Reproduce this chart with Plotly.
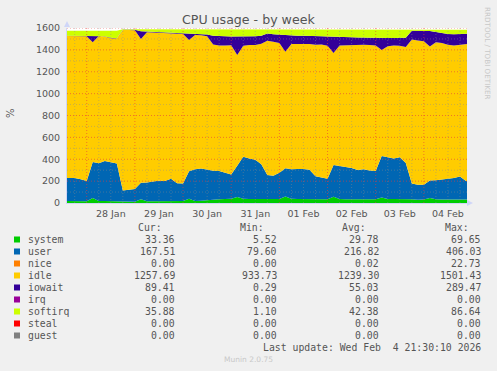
import plotly.graph_objects as go
import pandas as pd

# ---------------- data ----------------
times = pd.date_range("2026-01-27 12:00", periods=69, freq="3h")

system = [18,
          18, 18, 17, 17, 45, 18, 18, 17, 17, 10,
          10, 12, 35, 15, 16, 16, 17, 17, 18, 18,
          40, 18, 20, 22, 30, 35, 35, 38, 55, 38,
          36, 36, 35, 35, 34, 36, 60, 38, 36, 35,
          34, 34, 33, 35, 58, 36, 35, 35, 34, 35,
          33, 35, 50, 36, 37, 38, 36, 34, 30, 32,
          45, 34, 33, 32, 33, 32, 33,
          33]
user = [212,
        212, 210, 200, 185, 330, 345, 365, 355, 345, 105,
        110, 115, 150, 172, 180, 188, 185, 205, 162, 160,
        250, 290, 295, 282, 265, 258, 243, 222, 285, 385,
        370, 360, 320, 220, 215, 240, 258, 270, 274, 276,
        270, 210, 200, 187, 289, 302, 295, 285, 268, 274,
        265, 258, 380, 381, 371, 380, 330, 145, 137, 135,
        160, 175, 183, 187, 195, 210, 168,
        168]
nice = [0] * 69
idle = [1297,
        1297, 1297, 1307, 1322, 1095, 1164, 1139, 1135, 1142, 1466,
        1461, 1453, 1315, 1375, 1364, 1354, 1353, 1328, 1370, 1367,
        1200, 1229, 1218, 1221, 1155, 1147, 1162, 1183, 1013, 1015,
        1039, 1049, 1100, 1229, 1225, 1188, 1066, 1146, 1144, 1143,
        1150, 1202, 1216, 1215, 1025, 1101, 1111, 1126, 1142, 1138,
        1146, 1146, 969, 1017, 1031, 1019, 1061, 1317, 1319, 1312,
        1227, 1260, 1248, 1227, 1211, 1204, 1258,
        1258]
iowait = [3,
          3, 5, 3, 3, 60, 3, 3, 3, 3, 3,
          3, 3, 70, 5, 5, 5, 5, 5, 5, 8,
          60, 10, 12, 15, 80, 85, 85, 80, 170, 85,
          80, 80, 75, 65, 70, 75, 150, 80, 75, 75,
          75, 80, 75, 85, 150, 80, 75, 70, 70, 65,
          65, 70, 110, 75, 70, 75, 85, 80, 90, 95,
          140, 95, 90, 100, 105, 100, 89,
          89]
irq = [0] * 69
softirq = [45,
           45, 45, 48, 48, 45, 45, 50, 65, 68, 4,
           4, 5, 15, 18, 20, 22, 25, 30, 30, 32,
           35, 38, 40, 45, 55, 60, 60, 62, 62, 62,
           60, 60, 55, 35, 40, 45, 50, 50, 55, 55,
           55, 58, 60, 62, 62, 65, 68, 68, 70, 72,
           75, 75, 75, 75, 75, 72, 72, 8, 8, 10,
           12, 20, 30, 38, 40, 38, 36,
           36]
steal = [0] * 69
guest = [0] * 69

series_names = ["system", "user", "nice", "idle", "iowait", "irq", "softirq", "steal", "guest"]
series_values = [system, user, nice, idle, iowait, irq, softirq, steal, guest]
series_colors = ["#00CC00", "#0066B3", "#FF8000", "#FFCC00", "#330099",
                 "#990099", "#CCFF00", "#FF0000", "#808080"]

cur_vals = ["33.36", "167.51", "0.00", "1257.69", "89.41", "0.00", "35.88", "0.00", "0.00"]
min_vals = ["5.52", "79.60", "0.00", "933.73", "0.29", "0.00", "1.10", "0.00", "0.00"]
avg_vals = ["29.78", "216.82", "0.02", "1239.30", "55.03", "0.00", "42.38", "0.00", "0.00"]
max_vals = ["69.65", "406.03", "22.73", "1501.43", "289.47", "0.00", "86.64", "0.00", "0.00"]

x_tick_dates = pd.date_range("2026-01-28 12:00", "2026-02-04 12:00", freq="1D")
x_tick_text = ["28 Jan", "29 Jan", "30 Jan", "31 Jan", "01 Feb", "02 Feb", "03 Feb", "04 Feb"]
y_ticks = [0, 200, 400, 600, 800, 1000, 1200, 1400, 1600]

title_text = "CPU usage - by week"
last_update = "Last update: Wed Feb \u00a04 21:30:10 2026"
footer = "Munin 2.0.75"
side_text = "RRDTOOL / TOBI OETIKER"

x_start = pd.Timestamp("2026-01-27 14:10")
x_end = pd.Timestamp("2026-02-04 21:30")

# ---------------- layout geometry ----------------
W, H = 497, 371
L, R, T, B = 67, 30, 28, 168
PW, PH = W - L - R, H - T - B
TEXT = "#555555"
AXIS = "#CFD6F8"


def px(x):
    return (x - L) / PW


def py(y):
    return (T + PH - y) / PH


fig = go.Figure()
for name, vals, col in zip(series_names, series_values, series_colors):
    fig.add_trace(go.Scatter(
        x=times, y=vals, name=name, mode="lines", stackgroup="one",
        line=dict(width=0, color=col), fillcolor=col, hoverinfo="skip"))

shapes = []
# vertical grid every 6 hours
for t in pd.date_range("2026-01-27 18:00", "2026-02-04 18:00", freq="6h"):
    major = t.hour == 0
    shapes.append(dict(type="line", xref="x", yref="paper", x0=t, x1=t, y0=0, y1=1,
                       layer="above",
                       line=dict(color="rgba(229,60,60,0.6)" if major else "rgba(140,140,140,0.45)",
                                 width=1, dash="1px,2px")))
# horizontal grid every 100
for v in range(100, 1700, 100):
    major = v % 200 == 0
    shapes.append(dict(type="line", xref="paper", yref="y", x0=0, x1=1, y0=v, y1=v,
                       layer="above",
                       line=dict(color="rgba(229,60,60,0.6)" if major else "rgba(140,140,140,0.45)",
                                 width=1, dash="1px,2px")))
# axis arrows
shapes.append(dict(type="path", xref="paper", yref="paper", layer="above",
                   path=f"M {px(64)} {py(27)} L {px(70)} {py(27)} L {px(67)} {py(21)} Z",
                   fillcolor=AXIS, line=dict(width=0)))
shapes.append(dict(type="path", xref="paper", yref="paper", layer="above",
                   path=f"M {px(467)} {py(200)} L {px(467)} {py(206)} L {px(473)} {py(203)} Z",
                   fillcolor=AXIS, line=dict(width=0)))

annotations = []
annotations.append(dict(text=title_text, xref="paper", yref="paper", x=px(W / 2), y=py(19),
                        xanchor="center", yanchor="middle", showarrow=False,
                        font=dict(family="DejaVu Sans", size=12.6, color=TEXT)))
annotations.append(dict(text="%", xref="paper", yref="paper", x=px(10), y=py(113),
                        xanchor="center", yanchor="middle", showarrow=False, textangle=-90,
                        font=dict(family="DejaVu Sans", size=10, color=TEXT)))
annotations.append(dict(text=side_text, xref="paper", yref="paper", x=px(487.5), y=py(53.5),
                        xanchor="center", yanchor="middle", showarrow=False, textangle=90,
                        font=dict(family="DejaVu Sans", size=7.2, color="#C8C8C8")))

MONO = dict(family="DejaVu Sans Mono", size=9.8, color=TEXT)
head_y = 227.7
for lab, xr in zip(["Cur:", "Min:", "Avg:", "Max:"], [163.5, 266, 368, 470.5]):
    annotations.append(dict(text=lab, xref="paper", yref="paper", x=px(xr), y=py(head_y),
                            xanchor="right", yanchor="middle", showarrow=False, font=MONO))
for i, name in enumerate(series_names):
    yy = 239.5 + 12 * i
    shapes.append(dict(type="rect", xref="paper", yref="paper", layer="above",
                       x0=px(14), x1=px(20), y0=py(yy + 3), y1=py(yy - 3),
                       fillcolor=series_colors[i], line=dict(width=0)))
    annotations.append(dict(text=name, xref="paper", yref="paper", x=px(26), y=py(yy),
                            xanchor="left", yanchor="middle", showarrow=False, font=MONO))
    for col, xr in zip([cur_vals, min_vals, avg_vals, max_vals], [176.5, 278.5, 380.5, 482.5]):
        annotations.append(dict(text=col[i], xref="paper", yref="paper", x=px(xr), y=py(yy),
                                xanchor="right", yanchor="middle", showarrow=False, font=MONO))
annotations.append(dict(text=last_update, xref="paper", yref="paper", x=px(482.5), y=py(347.7),
                        xanchor="right", yanchor="middle", showarrow=False, font=MONO))
annotations.append(dict(text=footer, xref="paper", yref="paper", x=px(248), y=py(359.5),
                        xanchor="center", yanchor="middle", showarrow=False,
                        font=dict(family="DejaVu Sans", size=7.5, color="#C8C8C8")))

fig.update_layout(
    width=W, height=H,
    margin=dict(l=L, r=R, t=T, b=B, pad=0),
    paper_bgcolor="#F0F0F0", plot_bgcolor="#FFFFFF",
    showlegend=False,
    shapes=shapes, annotations=annotations,
    xaxis=dict(type="date", range=[x_start, x_end], tickvals=list(x_tick_dates), ticktext=x_tick_text,
               showgrid=False, zeroline=False, showline=True, linecolor=AXIS, linewidth=1,
               ticks="", ticklabelstandoff=2,
               tickfont=dict(family="DejaVu Sans", size=9.5, color=TEXT), fixedrange=True),
    yaxis=dict(range=[0, 1600], tickvals=y_ticks, ticktext=[str(v) for v in y_ticks],
               showgrid=False, zeroline=False, showline=True, linecolor=AXIS, linewidth=1,
               ticks="", ticklabelstandoff=4,
               tickfont=dict(family="DejaVu Sans", size=9.5, color=TEXT), fixedrange=True),
)

fig.write_html("out.html")
